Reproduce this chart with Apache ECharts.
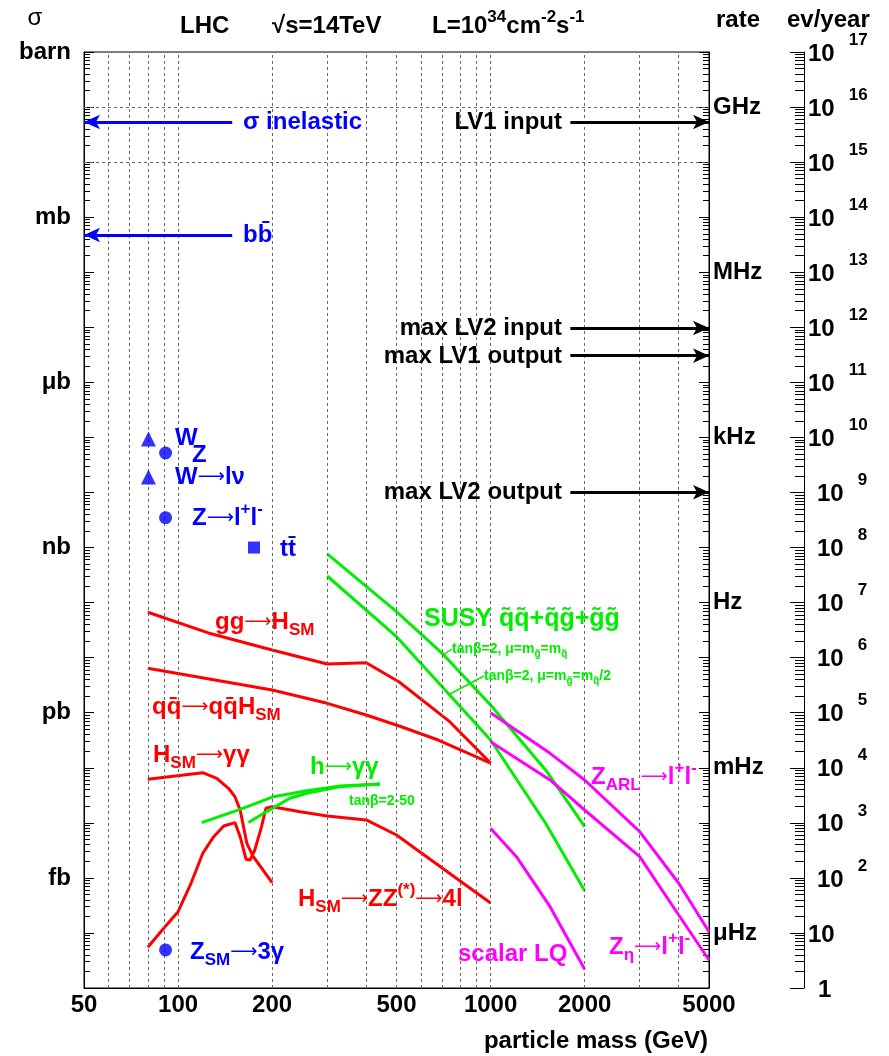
<!DOCTYPE html>
<html><head><meta charset="utf-8">
<script src="https://cdn.jsdelivr.net/npm/echarts@6/dist/echarts.min.js"></script>
<style>html,body{margin:0;padding:0;background:#fff}#c{width:889px;height:1056px}</style>
</head><body><div id="c"></div>
<script>
// ---------------- data (cross sections in barn, masses in GeV) ----------------
const xLabelValues = [50, 100, 200, 500, 1000, 2000, 5000];
const xGridValues = [60, 70, 80, 90, 100, 200, 300, 400, 500, 600, 700, 800, 900, 1000, 2000, 3000, 4000];
const sigmaUnitNames = ['barn', 'mb', '\u03bcb', 'nb', 'pb', 'fb'];
const sigmaUnitValues = [1, 1e-3, 1e-6, 1e-9, 1e-12, 1e-15];
const rateNames = ['GHz', 'MHz', 'kHz', 'Hz', 'mHz', '\u03bcHz'];
const rateValues = [1e-1, 1e-4, 1e-7, 1e-10, 1e-13, 1e-16];

const ggH_mass  = [80, 125, 200, 300, 400, 510, 740, 1000];
const ggH_sigma = [6.67e-11, 2.81e-11, 1.38e-11, 7.67e-12, 8.09e-12, 3.61e-12, 6.87e-13, 1.22e-13];
const qqH_mass  = [80, 200, 300, 400, 510, 680, 1000];
const qqH_sigma = [6.41e-12, 2.58e-12, 1.48e-12, 9.08e-13, 5.73e-13, 3.19e-13, 1.22e-13];
const Hgg_mass  = [80, 120, 133, 145, 152, 158, 162, 166, 174, 187, 200];
const Hgg_sigma = [6.18e-14, 8.15e-14, 6.44e-14, 4.24e-14, 2.98e-14, 1.71e-14, 8.51e-15, 4.25e-15, 2.43e-15, 1.39e-15, 8.18e-16];
const HZZ_mass  = [80, 90, 100, 110, 120, 130, 140, 152, 158, 165, 170, 176, 185, 191, 200, 246, 300, 400, 500, 1000];
const HZZ_sigma = [5.49e-17, 1.22e-16, 2.43e-16, 7.98e-16, 2.80e-15, 5.60e-15, 8.77e-15, 1.01e-14, 5.60e-15, 2.18e-15, 2.11e-15, 3.21e-15, 8.51e-15, 1.84e-14, 1.96e-14, 1.59e-14, 1.33e-14, 1.13e-14, 6.01e-15, 3.50e-16];
const hgg1_mass  = [119, 158, 202, 258, 330, 443];
const hgg1_sigma = [1.01e-14, 1.76e-14, 2.98e-14, 3.84e-14, 4.67e-14, 5.08e-14];
const hgg2_mass  = [168, 192, 228, 258, 330, 443];
const hgg2_sigma = [1.01e-14, 1.60e-14, 2.79e-14, 3.44e-14, 4.54e-14, 5.08e-14];
const susy1_mass  = [300, 500, 700, 1000, 1500, 2000];
const susy1_sigma = [7.64e-10, 6.84e-11, 1.20e-11, 1.38e-12, 9.12e-14, 8.51e-15];
const susy2_mass  = [300, 500, 700, 1000, 1500, 2000];
const susy2_sigma = [3.04e-10, 2.40e-11, 2.97e-12, 3.20e-13, 9.82e-15, 5.86e-16];
const zarl_mass  = [1000, 1550, 2000, 3000, 4000, 5000];
const zarl_sigma = [1.00e-12, 1.83e-13, 6.00e-14, 6.90e-15, 7.98e-16, 1.05e-16];
const zeta_mass  = [1000, 1550, 2000, 3000, 4000, 5000];
const zeta_sigma = [2.98e-13, 6.00e-14, 1.71e-14, 2.43e-15, 2.12e-16, 3.23e-17];
const lq_mass  = [1000, 1210, 1550, 2000];
const lq_sigma = [7.96e-15, 2.43e-15, 3.00e-16, 2.19e-17];

const wPoints   = [[80.4, 9.36e-8], [80.4, 1.91e-8]];      // W, W->lnu
const zPoints   = [[91.2, 5.21e-8], [91.2, 3.48e-9], [91.2, 4.91e-17]]; // Z, Z->ll, Z->3gamma
const ttPoints  = [[175, 1.0e-9]];

const leftArrowLevels  = [5.35e-2, 4.75e-4];   // sigma inelastic, b bbar
const leftArrowEnd     = 149;
const rightArrowLevels = [5.35e-2, 9.71e-6, 3.05e-6, 1.01e-8]; // LV1 in, LV2 in, LV1 out, LV2 out
const rightArrowStart  = 1800;
const evPerYearPerBarn = 1e17;

// ---------------- helpers ----------------
const F = '"Liberation Sans", Arial, Helvetica, sans-serif';
const pair = (xs, ys) => xs.map((x, i) => [x, ys[i]]);
const pw = e => parseFloat('1e' + e);
function decades(lo, hi) { const a = []; for (let e = lo; e <= hi; e++) a.push(pw(e)); return a; }
function minors(lo, hi) { const a = []; for (let e = lo; e < hi; e++) for (let d = 2; d <= 9; d++) a.push(parseFloat(d + 'e' + e)); return a; }

const sigDec = decades(-17, 0), sigMin = minors(-17, 0);
const evDec = decades(0, 17), evMin = minors(0, 17);

function curve(name, xs, ys, color) {
  return { name, type: 'line', xAxisIndex: 0, yAxisIndex: 0, data: pair(xs, ys), symbol: 'none', smooth: false,
    lineStyle: { color, width: 3 }, z: 3, silent: true, animation: false };
}
const lab = { fontFamily: F, fontWeight: 'bold', fontSize: 24, color: '#000' };

const baseY = { type: 'log', logBase: 10, min: 1e-17, max: 1 };
const yAxes = [
  Object.assign({}, baseY, { position: 'left', axisLine: { show: true, lineStyle: { color: '#000', width: 1 } },
    axisTick: { show: true, inside: true, length: 6, customValues: sigMin, lineStyle: { color: '#000' } },
    axisLabel: Object.assign({}, lab, { customValues: sigmaUnitValues, margin: 13,
      formatter: v => sigmaUnitNames[Math.round(-Math.log10(v) / 3)] }),
    splitLine: { show: false } }),
  Object.assign({}, baseY, { position: 'left', axisLine: { show: false },
    axisTick: { show: true, inside: true, length: 10, customValues: sigDec, lineStyle: { color: '#000' } },
    axisLabel: { show: false }, splitLine: { show: false } }),
  Object.assign({}, baseY, { position: 'right', axisLine: { show: true, lineStyle: { color: '#000', width: 1 } },
    axisTick: { show: true, inside: true, length: 6, customValues: sigMin, lineStyle: { color: '#000' } },
    axisLabel: Object.assign({}, lab, { customValues: rateValues, margin: 4,
      formatter: v => rateNames[Math.round((-Math.log10(v) - 1) / 3)] }),
    splitLine: { show: false } }),
  Object.assign({}, baseY, { position: 'right', axisLine: { show: false },
    axisTick: { show: true, inside: true, length: 10, customValues: sigDec, lineStyle: { color: '#000' } },
    axisLabel: { show: false }, splitLine: { show: false } }),
  { type: 'log', logBase: 10, min: 1, max: evPerYearPerBarn, position: 'right', offset: 95,
    axisLine: { show: true, lineStyle: { color: '#000', width: 1 } },
    axisTick: { show: true, inside: true, length: 9, customValues: evMin, lineStyle: { color: '#000' } },
    axisLabel: { customValues: evDec, margin: 4, color: '#000',
      formatter: v => { const e = Math.round(Math.log10(v));
        if (e === 0) return '{p|1}'; if (e === 1) return '{b|10}';
        return (e < 10 ? '{c|10}' : '{b|10}') + '{s|' + e + '}'; },
      rich: {
        b: { fontFamily: F, fontWeight: 'bold', fontSize: 24, color: '#000', padding: [4, 0, 0, 0] },
        c: { fontFamily: F, fontWeight: 'bold', fontSize: 24, color: '#000', padding: [4, 0, 0, 9] },
        p: { fontFamily: F, fontWeight: 'bold', fontSize: 24, color: '#000', padding: [4, 0, 0, 10] },
        s: { fontFamily: F, fontWeight: 'bold', fontSize: 17, color: '#000', padding: [0, 0, 24, 14] }
      } },
    splitLine: { show: false } },
  { type: 'log', logBase: 10, min: 1, max: evPerYearPerBarn, position: 'right', offset: 95,
    axisLine: { show: false },
    axisTick: { show: true, inside: true, length: 14, customValues: evDec, lineStyle: { color: '#000' } },
    axisLabel: { show: false }, splitLine: { show: false } }
];

const gridLineStyle = { type: [3, 3], color: '#666', width: 1 };
const gridSeries = {
  type: 'line', xAxisIndex: 0, yAxisIndex: 0, data: [[50, 1e-17]], symbol: 'none', z: 1, silent: true,
  lineStyle: { width: 0 },
  markLine: { silent: true, symbol: 'none', animation: false, label: { show: false }, lineStyle: gridLineStyle,
    emphasis: { disabled: true },
    data: xGridValues.map(v => ({ xAxis: v })).concat(decades(-16, -1).map(v => ({ yAxis: v }))) }
};
function arrowSeries(levels, x1, x2, color, symbols) {
  return { type: 'line', xAxisIndex: 0, yAxisIndex: 0, data: [[50, 1e-17]], symbol: 'none', z: 4, silent: true,
    lineStyle: { width: 0 },
    markLine: { silent: true, symbol: symbols, symbolSize: [11, 16], animation: false, label: { show: false },
      emphasis: { disabled: true }, lineStyle: { color, width: 3, type: 'solid' },
      data: levels.map(v => [{ coord: [x1, v] }, { coord: [x2, v] }]) } };
}

// ---------------- text annotations ----------------
const AR = '{a|\u27f6}';
function rich(size) {
  return {
    n: { fontSize: size, fontWeight: 'bold', fontFamily: F },
    a: { fontSize: Math.round(size * 0.8), fontWeight: 'normal', fontFamily: '"DejaVu Sans", "Noto Sans", sans-serif' },
    s: { fontSize: Math.round(size * 0.7), fontWeight: 'bold', fontFamily: F, padding: [Math.round(size * 0.72), 0, 0, 0] },
    p: { fontSize: Math.round(size * 0.7), fontWeight: 'bold', fontFamily: F, padding: [0, 0, Math.round(size * 0.72), 0] }
  };
}
function T(x, y, text, color, size, align) {
  return { type: 'text', x, y, z: 20, silent: true,
    style: { text, fill: color, fontSize: size, fontWeight: 'bold', fontFamily: F, align: align || 'left', verticalAlign: 'middle', rich: rich(size) } };
}
const RED = '#ff0000', GRN = '#00ee00', MAG = '#ff00ff', BLU = '#0000ff';
const graphics = [
  { type: 'text', x: 35, y: 18, z: 20, silent: true, style: { text: '\u03c3', fill: '#000', fontSize: 24, fontFamily: F, align: 'center', verticalAlign: 'middle' } },
  T(180, 26, 'LHC', '#000', 24),
  T(272, 26, '\u221as=14TeV', '#000', 24),
  T(432, 26, '{n|L=10}{p|34}{n|cm}{p|-2}{n|s}{p|-1}', '#000', 24),
  T(716, 20, 'rate', '#000', 24),
  T(787, 20, 'ev/year', '#000', 24),
  T(708, 1041, 'particle mass (GeV)', '#000', 24, 'right'),
  T(243, 122, '\u03c3 inelastic', BLU, 24),
  T(243, 235, 'bb\u0304', BLU, 24),
  T(562, 122, 'LV1 input', '#000', 24, 'right'),
  T(562, 328, 'max LV2 input', '#000', 24, 'right'),
  T(562, 356, 'max LV1 output', '#000', 24, 'right'),
  T(562, 492, 'max LV2 output', '#000', 24, 'right'),
  T(175, 438, 'W', BLU, 24),
  T(192, 455, 'Z', BLU, 24),
  T(175, 477, '{n|W}' + AR + '{n|l\u03bd}', BLU, 24),
  T(192, 518, '{n|Z}' + AR + '{n|l}{p|+}{n|l}{p|-}', BLU, 24),
  T(280, 549, 'tt\u0304', BLU, 24),
  T(190, 952, '{n|Z}{s|SM}' + AR + '{n|3\u03b3}', BLU, 24),
  T(215, 622, '{n|gg}' + AR + '{n|H}{s|SM}', RED, 24),
  T(152, 707, '{n|qq\u0304}' + AR + '{n|qq\u0304H}{s|SM}', RED, 24),
  T(153, 755, '{n|H}{s|SM}' + AR + '{n|\u03b3\u03b3}', RED, 24),
  T(298, 899, '{n|H}{s|SM}' + AR + '{n|ZZ}{p|(*)}' + AR + '{n|4l}', RED, 24),
  T(310, 767, '{n|h}' + AR + '{n|\u03b3\u03b3}', GRN, 24),
  T(349, 801, 'tan\u03b2=2-50', GRN, 14),
  T(424, 619, 'SUSY q\u0303q\u0303+q\u0303g\u0303+g\u0303g\u0303', GRN, 25),
  T(452, 649, '{n|tan\u03b2=2, \u03bc=m}{s|g\u0303}{n|=m}{s|q\u0303}', GRN, 14),
  T(484, 676, '{n|tan\u03b2=2, \u03bc=m}{s|g\u0303}{n|=m}{s|q\u0303}{n|/2}', GRN, 14),
  T(591, 777, '{n|Z}{s|ARL}' + AR + '{n|l}{p|+}{n|l}{p|-}', MAG, 24),
  T(609, 947, '{n|Z}{s|\u03b7}' + AR + '{n|l}{p|+}{n|l}{p|-}', MAG, 24),
  T(458, 954, 'scalar LQ', MAG, 24),
  { type: 'line', z: 20, silent: true, shape: { x1: 443, y1: 655, x2: 452, y2: 649 }, style: { stroke: GRN, lineWidth: 1.5 } },
  { type: 'line', z: 20, silent: true, shape: { x1: 450, y1: 694, x2: 484, y2: 676 }, style: { stroke: GRN, lineWidth: 1.5 } }
];

const option = {
  animation: false,
  backgroundColor: '#fff',
  textStyle: { fontFamily: F },
  grid: { left: 84, top: 52, right: 180, bottom: 68, show: true, borderColor: '#000', borderWidth: 1, containLabel: false, outerBoundsMode: 'none' },
  xAxis: [{ type: 'log', logBase: 10, min: 50, max: 5000, position: 'bottom',
    axisLine: { show: true, lineStyle: { color: '#000', width: 1 } }, axisTick: { show: false },
    axisLabel: Object.assign({}, lab, { customValues: xLabelValues, margin: 5, formatter: v => String(Math.round(v)) }),
    splitLine: { show: false } }],
  yAxis: yAxes,
  series: [
    gridSeries,
    arrowSeries(leftArrowLevels, 50, leftArrowEnd, BLU, ['arrow', 'none']),
    arrowSeries(rightArrowLevels, rightArrowStart, 5000, '#000', ['none', 'arrow']),
    curve('gg->H', ggH_mass, ggH_sigma, RED),
    curve('qq->qqH', qqH_mass, qqH_sigma, RED),
    curve('H->gg', Hgg_mass, Hgg_sigma, RED),
    curve('H->ZZ', HZZ_mass, HZZ_sigma, RED),
    curve('h->gg 1', hgg1_mass, hgg1_sigma, GRN),
    curve('h->gg 2', hgg2_mass, hgg2_sigma, GRN),
    curve('SUSY 1', susy1_mass, susy1_sigma, GRN),
    curve('SUSY 2', susy2_mass, susy2_sigma, GRN),
    curve('Z ARL', zarl_mass, zarl_sigma, MAG),
    curve('Z eta', zeta_mass, zeta_sigma, MAG),
    curve('scalar LQ', lq_mass, lq_sigma, MAG),
    { type: 'scatter', xAxisIndex: 0, yAxisIndex: 0, data: wPoints, symbol: 'triangle', symbolSize: 15, itemStyle: { color: BLU }, z: 5, silent: true },
    { type: 'scatter', xAxisIndex: 0, yAxisIndex: 0, data: zPoints, symbol: 'circle', symbolSize: 13, itemStyle: { color: BLU }, z: 5, silent: true },
    { type: 'scatter', xAxisIndex: 0, yAxisIndex: 0, data: ttPoints, symbol: 'rect', symbolSize: 12, itemStyle: { color: BLU }, z: 5, silent: true }
  ],
  graphic: graphics
};
const chart = echarts.init(document.getElementById('c'), null, { renderer: 'canvas' });
chart.setOption(option);
</script></body></html>
